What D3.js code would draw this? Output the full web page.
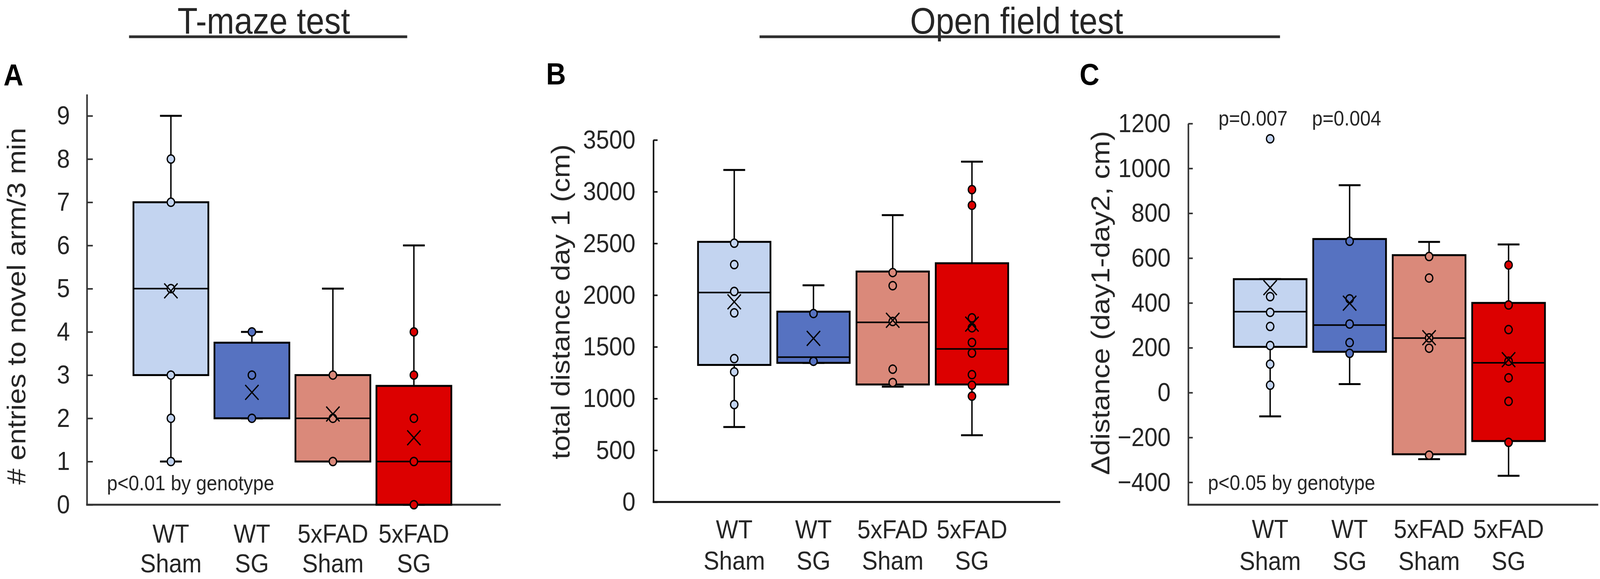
<!DOCTYPE html>
<html>
<head>
<meta charset="utf-8">
<script src="https://cdn.jsdelivr.net/npm/d3@7"></script>
<style>
  html, body { margin: 0; padding: 0; background: #fff; width: 100%; height: 100%; overflow: hidden; }
  #chart { width: 100vw; height: 100vh; }
  svg { display: block; width: 100%; height: 100%; }
  text { font-family: "Liberation Sans", Arial, Helvetica, sans-serif; fill: #262626; }
</style>
</head>
<body>
<div id="chart"></div>
<script>
// ---------------- DATA ----------------
const categories = ["WT Sham", "WT SG", "5xFAD Sham", "5xFAD SG"];
const catLine1 = ["WT", "WT", "5xFAD", "5xFAD"];
const catLine2 = ["Sham", "SG", "Sham", "SG"];
const seriesColors = ["#c3d4f0", "#5672c1", "#da897a", "#dc0000"];

// Panel A: # entries to novel arm/3 min (T-maze)
const aTicks = [0, 1, 2, 3, 4, 5, 6, 7, 8, 9];
const aMin    = [1, 2, 1, 0];
const aQ1     = [3, 2, 1, 0];
const aMedian = [5, 2, 2, 1];
const aQ3     = [7, 3.75, 3, 2.75];
const aMax    = [9, 4, 5, 6];
const aMean   = [4.95, 2.6, 2.1, 1.55];
const aPoints = [[8, 7, 5, 3, 2, 1], [4, 3, 2], [3, 2, 1], [4, 3, 2, 1, 0]];

// Panel B: total distance day 1 (cm)
const bTicks = [0, 500, 1000, 1500, 2000, 2500, 3000, 3500];
const bMin    = [725, 1345, 1115, 645];
const bQ1     = [1325, 1345, 1136, 1136];
const bMedian = [2025, 1400, 1737, 1480];
const bQ3     = [2515, 1840, 2228, 2308];
const bMax    = [3210, 2095, 2773, 3290];
const bMean   = [1935, 1582, 1757, 1720];
const bPoints = [
  [2502, 2295, 2035, 1828, 1386, 1258, 942],
  [1822, 1360],
  [2218, 2091, 1745, 1284, 1155],
  [3020, 2868, 1780, 1684, 1542, 1440, 1231, 1129, 1023]
];

// Panel C: Δdistance (day1-day2, cm)
const cTicks = [-400, -200, 0, 200, 400, 600, 800, 1000, 1200];
const cMin    = [-106, 38, -297, -371];
const cQ1     = [204, 182, -275, -216];
const cMedian = [361, 301, 243, 133];
const cQ3     = [506, 685, 613, 400];
const cMax    = [506, 925, 672, 661];
const cMean   = [468, 399, 245, 147];
const cPoints = [
  [1132, 428, 358, 295, 210, 127, 33],
  [675, 418, 306, 223, 175],
  [607, 511, 244, 198, -279],
  [569, 391, 281, 140, 66, -39, -222]
];

// ---------------- LAYOUT ----------------
const W = 4550, H = 1481;
const svg = d3.select("#chart").append("svg")
  .attr("viewBox", `0 0 ${W} ${H}`)
  .attr("preserveAspectRatio", "none");

const panels = [
  { letter: "A", letterX: 10, letterY: 219,
    axisX: 247, axisEnd: 1424, xFirst: 486, xLast: 1177, boxW: 213,
    yDomain: [0, 9.5], yRange: [1291, 241], ticks: aTicks, tickLen: 17, tickPad: 48,
    axisColor: "#333",
    yTitle: "# entries to novel arm/3 min", yTitleX: 72, yTitleY: 783,
    labY1: 1388, labY2: 1464,
    min: aMin, q1: aQ1, med: aMedian, q3: aQ3, max: aMax, mean: aMean, pts: aPoints },
  { letter: "B", letterX: 1553, letterY: 216,
    axisX: 1858, axisEnd: 3015, xFirst: 2088, xLast: 2764, boxW: 206,
    yDomain: [0, 3500], yRange: [1284, 358], ticks: bTicks, tickLen: 12, tickPad: 51,
    axisColor: "#111",
    yTitle: "total distance day 1 (cm)", yTitleX: 1620, yTitleY: 772,
    labY1: 1377, labY2: 1457,
    min: bMin, q1: bQ1, med: bMedian, q3: bQ3, max: bMax, mean: bMean, pts: bPoints },
  { letter: "C", letterX: 3070, letterY: 217,
    axisX: 3379, axisEnd: 4545, xFirst: 3612, xLast: 4290, boxW: 207,
    yDomain: [-500, 1200], yRange: [1291, 316], ticks: cTicks, tickLen: 13, tickPad: 50,
    axisColor: "#333",
    yTitle: "\u0394distance (day1-day2, cm)", yTitleX: 3155, yTitleY: 775,
    labY1: 1376, labY2: 1458,
    min: cMin, q1: cQ1, med: cMedian, q3: cQ3, max: cMax, mean: cMean, pts: cPoints }
];

// ---------------- HEADERS ----------------
const headers = [
  { text: "T-maze test", cx: 750, x1: 367, x2: 1158 },
  { text: "Open field test", cx: 2891, x1: 2160, x2: 3640 }
];
headers.forEach(h => {
  svg.append("text").attr("x", h.cx).attr("y", 86)
    .attr("text-anchor", "middle").style("font-size", "94px").text(h.text);
  svg.append("line").attr("x1", h.x1).attr("x2", h.x2).attr("y1", 94).attr("y2", 94)
    .attr("stroke", "#2e2e2e").attr("stroke-width", 7);
});

// ---------------- PANELS ----------------
panels.forEach(p => {
  const g = svg.append("g");
  const y = d3.scaleLinear().domain(p.yDomain).range(p.yRange);
  const x = d3.scalePoint().domain(categories).range([p.xFirst, p.xLast]);
  const capW = 62;

  // panel letter
  svg.append("text").attr("x", p.letterX).attr("y", p.letterY)
    .style("font-size", "78px").style("font-weight", "bold").style("fill", "#000")
    .text(p.letter);

  // y axis
  const axis = d3.axisLeft(y).tickValues(p.ticks).tickSizeInner(-p.tickLen)
    .tickSizeOuter(0).tickPadding(p.tickPad).tickFormat(d3.format("d"));
  const ag = g.append("g").attr("transform", `translate(${p.axisX},0)`).call(axis);
  ag.select(".domain").attr("stroke", p.axisColor).attr("stroke-width", 4.5);
  ag.selectAll(".tick line").attr("stroke", p.axisColor).attr("stroke-width", 4);
  ag.selectAll(".tick text").style("font-size", "67px").style("fill", "#262626")
    .style("font-family", "'Liberation Sans', Arial, sans-serif");

  // x axis line
  g.append("line").attr("x1", p.axisX - 2).attr("x2", p.axisEnd)
    .attr("y1", y(p.yDomain[0])).attr("y2", y(p.yDomain[0]))
    .attr("stroke", p.axisColor).attr("stroke-width", 5);

  // y title
  g.append("text")
    .attr("transform", `translate(${p.yTitleX},${p.yTitleY}) rotate(-90)`)
    .attr("text-anchor", "middle").style("font-size", "74px").text(p.yTitle);

  // category labels
  categories.forEach((c, i) => {
    g.append("text").attr("x", x(c)).attr("y", p.labY1).attr("text-anchor", "middle")
      .style("font-size", "67px").text(catLine1[i]);
    g.append("text").attr("x", x(c)).attr("y", p.labY2).attr("text-anchor", "middle")
      .style("font-size", "67px").text(catLine2[i]);
  });

  const idx = d3.range(categories.length);
  const box = g.append("g");

  // whiskers
  box.selectAll(".wh").data(idx).join("line")
    .attr("x1", i => x(categories[i])).attr("x2", i => x(categories[i]))
    .attr("y1", i => y(p.max[i])).attr("y2", i => y(p.min[i]))
    .attr("stroke", "#000").attr("stroke-width", 4);
  // caps
  box.selectAll(".capTop").data(idx).join("line")
    .attr("x1", i => x(categories[i]) - capW / 2).attr("x2", i => x(categories[i]) + capW / 2)
    .attr("y1", i => y(p.max[i])).attr("y2", i => y(p.max[i]))
    .attr("stroke", "#000").attr("stroke-width", 5);
  box.selectAll(".capBot").data(idx).join("line")
    .attr("x1", i => x(categories[i]) - capW / 2).attr("x2", i => x(categories[i]) + capW / 2)
    .attr("y1", i => y(p.min[i])).attr("y2", i => y(p.min[i]))
    .attr("stroke", "#000").attr("stroke-width", 5);
  // boxes
  box.selectAll(".bx").data(idx).join("rect")
    .attr("x", i => x(categories[i]) - p.boxW / 2).attr("width", p.boxW)
    .attr("y", i => y(p.q3[i])).attr("height", i => y(p.q1[i]) - y(p.q3[i]))
    .attr("fill", i => seriesColors[i]).attr("stroke", "#000").attr("stroke-width", 5);
  // medians
  box.selectAll(".md").data(idx).join("line")
    .attr("x1", i => x(categories[i]) - p.boxW / 2).attr("x2", i => x(categories[i]) + p.boxW / 2)
    .attr("y1", i => y(p.med[i])).attr("y2", i => y(p.med[i]))
    .attr("stroke", "#000").attr("stroke-width", 4);
  // points
  const ptData = [];
  p.pts.forEach((arr, i) => arr.forEach(v => ptData.push({ i, v })));
  box.selectAll(".pt").data(ptData).join("circle")
    .attr("cx", d => x(categories[d.i])).attr("cy", d => y(d.v)).attr("r", 10.5)
    .attr("fill", d => seriesColors[d.i]).attr("stroke", "#000").attr("stroke-width", 3.5);
  // means (X)
  const s = 19;
  box.selectAll(".mn").data(idx).join("path")
    .attr("d", i => {
      const cx = x(categories[i]), cy = y(p.mean[i]);
      return `M${cx - s},${cy - s}L${cx + s},${cy + s}M${cx - s},${cy + s}L${cx + s},${cy - s}`;
    })
    .attr("stroke", "#000").attr("stroke-width", 3.5).attr("fill", "none");
});

// ---------------- ANNOTATIONS ----------------
const notes = [
  { text: "p<0.01 by genotype", x: 304, y: 1254 },
  { text: "p<0.05 by genotype", x: 3435, y: 1253 },
  { text: "p=0.007", x: 3465, y: 321 },
  { text: "p=0.004", x: 3731, y: 321 }
];
notes.forEach(n => {
  svg.append("text").attr("x", n.x).attr("y", n.y).style("font-size", "54px").text(n.text);
});
</script>
</body>
</html>
